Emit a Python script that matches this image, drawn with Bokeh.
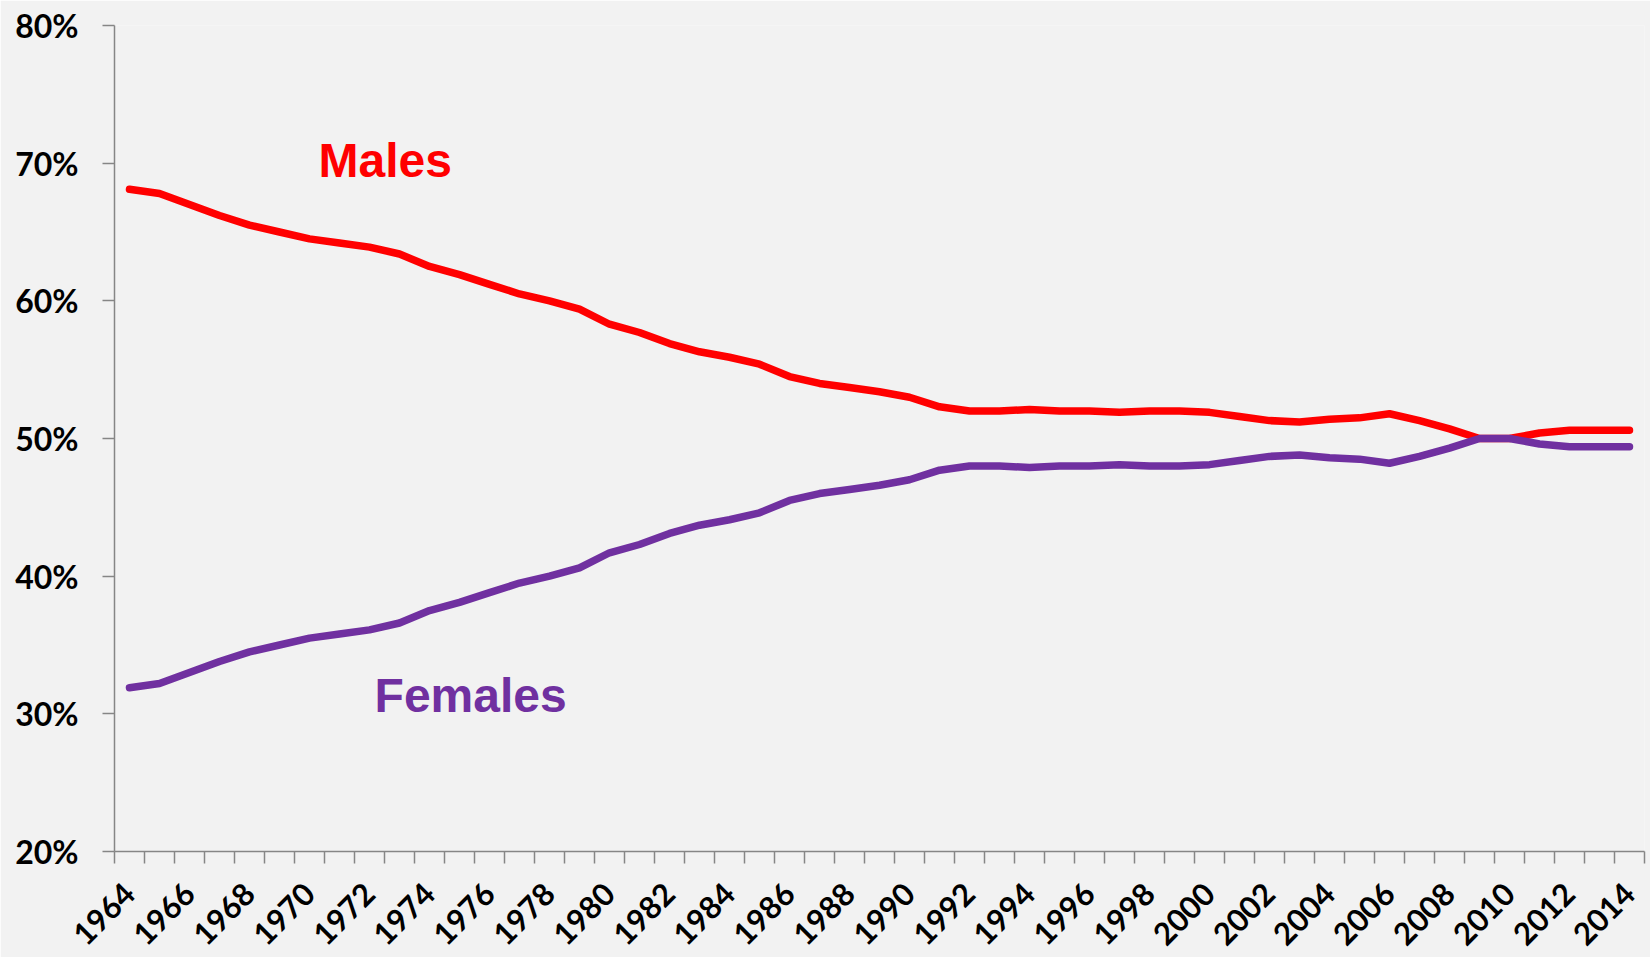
import math
from bokeh.plotting import figure
from bokeh.models import Range1d, FixedTicker, NumeralTickFormatter, BasicTickFormatter, Label
from bokeh.embed import file_html
from bokeh.resources import INLINE

years = list(range(1964, 2015))
males = [0.681, 0.678, 0.670, 0.662, 0.655, 0.650, 0.645, 0.642, 0.639, 0.634,
         0.625, 0.619, 0.612, 0.605, 0.600, 0.594, 0.583, 0.577, 0.569, 0.563,
         0.559, 0.554, 0.545, 0.540, 0.537, 0.534, 0.530, 0.523, 0.520, 0.520,
         0.521, 0.520, 0.520, 0.519, 0.520, 0.520, 0.519, 0.516, 0.513, 0.512,
         0.514, 0.515, 0.518, 0.513, 0.507, 0.500, 0.500, 0.504, 0.506, 0.506,
         0.506]
females = [0.319, 0.322, 0.330, 0.338, 0.345, 0.350, 0.355, 0.358, 0.361, 0.366,
           0.375, 0.381, 0.388, 0.395, 0.400, 0.406, 0.417, 0.423, 0.431, 0.437,
           0.441, 0.446, 0.455, 0.460, 0.463, 0.466, 0.470, 0.477, 0.480, 0.480,
           0.479, 0.480, 0.480, 0.481, 0.480, 0.480, 0.481, 0.484, 0.487, 0.488,
           0.486, 0.485, 0.482, 0.487, 0.493, 0.500, 0.500, 0.496, 0.494, 0.494,
           0.494]
y_ticks = [0.2, 0.3, 0.4, 0.5, 0.6, 0.7, 0.8]
label_years = years[::2]

AXIS_COLOR = "#868686"
BG = "#F2F2F2"
TICK_FONT = "Lato"

p = figure(width=1650, height=957, output_backend="svg", toolbar_location=None,
           x_range=Range1d(years[0] - 0.5, years[-1] + 0.5),
           y_range=Range1d(y_ticks[0], y_ticks[-1]),
           min_border_left=114, min_border_right=6, min_border_top=25,
           min_border_bottom=105,
           background_fill_color=BG, border_fill_color=BG, outline_line_color=None)
p.grid.visible = False

xa = p.xaxis[0]
xa.ticker = FixedTicker(ticks=label_years,
                        minor_ticks=[y - 0.5 for y in years] + [years[-1] + 0.5])
xa.formatter = BasicTickFormatter(use_scientific=False)
xa.axis_line_color = AXIS_COLOR
xa.axis_line_width = 1.5
xa.major_tick_out = 0
xa.major_tick_in = 0
xa.minor_tick_out = 12
xa.minor_tick_in = 0
xa.minor_tick_line_color = AXIS_COLOR
xa.minor_tick_line_width = 1.5
xa.major_label_orientation = math.pi / 4
xa.major_label_standoff = 25
xa.major_label_text_font = TICK_FONT
xa.major_label_text_font_style = "bold"
xa.major_label_text_font_size = "31px"
xa.major_label_text_color = "#000000"

ya = p.yaxis[0]
ya.ticker = FixedTicker(ticks=y_ticks, minor_ticks=[])
ya.formatter = NumeralTickFormatter(format="0%")
ya.axis_line_color = AXIS_COLOR
ya.axis_line_width = 1.5
ya.major_tick_out = 12
ya.major_tick_in = 0
ya.minor_tick_out = 0
ya.minor_tick_in = 0
ya.major_tick_line_color = AXIS_COLOR
ya.major_tick_line_width = 1.5
ya.major_label_standoff = 24
ya.major_label_text_font = TICK_FONT
ya.major_label_text_font_style = "bold"
ya.major_label_text_font_size = "32px"
ya.major_label_text_color = "#000000"

p.line(years, males, line_color="#FF0000", line_width=7.5, line_cap="round", line_join="round")
p.line(years, females, line_color="#7030A0", line_width=7.5, line_cap="round", line_join="round")

p.add_layout(Label(x=1970.3, y=0.702, text="Males", text_font="Liberation Sans",
                   text_font_style="bold", text_font_size="48px", text_color="#FF0000",
                   text_baseline="alphabetic"))
p.add_layout(Label(x=1972.17, y=0.313, text="Females", text_font="Liberation Sans",
                   text_font_style="bold", text_font_size="48px", text_color="#7030A0",
                   text_baseline="alphabetic"))

open("out.html", "w").write(file_html(p, INLINE))
